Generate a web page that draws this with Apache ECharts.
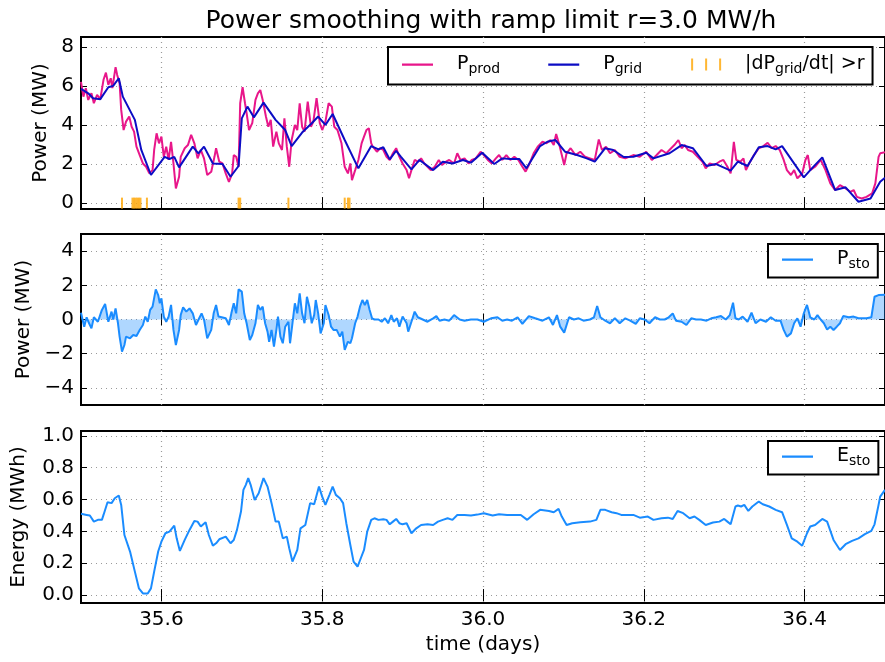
<!DOCTYPE html>
<html><head><meta charset="utf-8">
<script src="https://cdn.jsdelivr.net/npm/echarts@6/dist/echarts.min.js"></script>
<style>html,body{margin:0;padding:0;background:#fff}#c{width:885px;height:662px}</style>
</head><body><div id="c"></div>
<script>
// ---------- data ----------
const xTicks = [35.6, 35.8, 36.0, 36.2, 36.4];
const yTicksTop = [0, 2, 4, 6, 8];
const yTicksMid = [-4, -2, 0, 2, 4];
const yTicksBot = [0, 0.2, 0.4, 0.6, 0.8, 1.0];

const pProd = [[35.500,6.2],[35.503,5.45],[35.506,5.88],[35.509,5.28],[35.513,5.62],[35.516,5.11],[35.520,5.54],[35.524,5.32],[35.528,6.31],[35.531,6.68],[35.534,6.05],[35.537,6.39],[35.539,5.88],[35.543,6.96],[35.545,6.56],[35.548,6.14],[35.550,4.77],[35.553,3.74],[35.556,4.17],[35.560,4.43],[35.563,3.91],[35.566,3.66],[35.569,2.89],[35.573,2.46],[35.577,2.03],[35.581,1.86],[35.585,1.52],[35.589,1.69],[35.591,2.72],[35.594,3.57],[35.597,3.06],[35.600,3.40],[35.603,2.37],[35.606,2.89],[35.609,2.21],[35.612,3.14],[35.615,2.03],[35.618,0.75],[35.622,1.35],[35.624,2.37],[35.629,2.81],[35.633,2.97],[35.637,3.49],[35.641,3.06],[35.645,2.29],[35.649,2.72],[35.653,2.29],[35.657,1.44],[35.662,1.61],[35.666,2.37],[35.668,2.81],[35.672,2.12],[35.676,2.03],[35.680,1.52],[35.684,1.09],[35.688,1.52],[35.690,2.46],[35.693,2.37],[35.696,1.86],[35.698,5.11],[35.701,5.93],[35.704,5.11],[35.706,4.6],[35.709,3.74],[35.713,4.09],[35.717,5.28],[35.720,5.62],[35.723,5.79],[35.726,5.28],[35.730,4.43],[35.733,3.91],[35.736,4.26],[35.739,2.89],[35.743,3.66],[35.746,3.06],[35.750,2.72],[35.753,4.34],[35.756,2.89],[35.759,1.86],[35.762,3.23],[35.766,4.0],[35.769,3.74],[35.772,5.11],[35.775,3.91],[35.778,3.66],[35.782,5.19],[35.786,3.91],[35.789,4.17],[35.793,5.37],[35.797,4.09],[35.800,3.74],[35.804,4.17],[35.808,5.11],[35.812,4.94],[35.815,3.91],[35.819,3.74],[35.824,3.06],[35.828,1.86],[35.832,1.52],[35.835,2.03],[35.837,1.18],[35.841,1.69],[35.845,2.21],[35.849,3.06],[35.852,3.40],[35.855,3.74],[35.858,3.83],[35.861,3.06],[35.863,2.89],[35.868,2.63],[35.872,2.81],[35.876,2.72],[35.880,2.37],[35.884,2.21],[35.888,2.55],[35.892,2.81],[35.896,2.37],[35.900,2.03],[35.905,1.69],[35.908,1.27],[35.911,1.69],[35.915,2.21],[35.919,2.12],[35.923,2.29],[35.927,2.03],[35.931,1.86],[35.935,1.69],[35.940,1.86],[35.945,2.21],[35.949,1.95],[35.954,2.12],[35.958,2.21],[35.964,2.03],[35.968,2.55],[35.972,2.21],[35.977,2.29],[35.982,2.03],[35.986,2.21],[35.991,2.29],[35.997,2.63],[36.001,2.46],[36.006,2.21],[36.011,2.03],[36.016,2.29],[36.020,2.46],[36.024,2.21],[36.029,2.46],[36.034,2.21],[36.039,2.37],[36.044,2.21],[36.049,1.86],[36.053,1.61],[36.058,2.03],[36.063,2.55],[36.068,2.89],[36.074,3.14],[36.079,3.06],[36.084,3.23],[36.088,2.97],[36.091,3.54],[36.095,2.97],[36.098,2.46],[36.101,1.95],[36.104,2.55],[36.109,2.81],[36.115,2.46],[36.121,2.63],[36.127,2.37],[36.133,2.29],[36.139,2.21],[36.144,3.26],[36.148,2.72],[36.153,2.89],[36.158,2.55],[36.164,2.72],[36.170,2.37],[36.177,2.29],[36.179,2.37],[36.187,2.46],[36.195,2.37],[36.203,2.63],[36.210,2.21],[36.216,2.46],[36.222,2.72],[36.228,2.55],[36.234,2.81],[36.238,2.97],[36.243,3.23],[36.247,2.81],[36.251,2.97],[36.255,2.72],[36.261,2.63],[36.267,2.37],[36.273,2.12],[36.277,1.78],[36.282,2.03],[36.288,1.95],[36.294,2.12],[36.299,2.21],[36.304,1.86],[36.308,1.52],[36.312,3.14],[36.315,2.21],[36.320,2.12],[36.324,2.29],[36.327,1.69],[36.331,2.03],[36.337,2.46],[36.343,2.81],[36.348,2.89],[36.354,3.09],[36.359,2.81],[36.364,2.92],[36.369,2.72],[36.374,2.21],[36.378,1.69],[36.383,1.44],[36.387,1.69],[36.391,1.27],[36.397,1.52],[36.401,2.21],[36.404,2.46],[36.407,1.69],[36.413,1.86],[36.420,2.21],[36.426,1.69],[36.432,1.01],[36.438,0.67],[36.444,0.92],[36.451,0.75],[36.457,0.58],[36.461,0.67],[36.465,0.32],[36.471,0.24],[36.477,0.32],[36.484,0.5],[36.488,1.01],[36.492,2.37],[36.494,2.55],[36.500,2.6]];

const pGrid = [[35.500,5.85],[35.509,5.62],[35.515,5.37],[35.524,5.32],[35.534,5.93],[35.540,6.0],[35.547,6.39],[35.552,5.45],[35.567,4.26],[35.575,2.72],[35.587,1.44],[35.604,2.37],[35.610,2.26],[35.616,2.37],[35.622,1.83],[35.639,2.89],[35.646,2.55],[35.653,2.89],[35.664,2.03],[35.676,2.0],[35.686,1.35],[35.696,1.9],[35.700,4.34],[35.707,4.94],[35.715,4.39],[35.727,5.14],[35.742,4.26],[35.754,3.74],[35.762,2.92],[35.775,3.61],[35.787,4.09],[35.795,4.43],[35.804,4.0],[35.813,4.56],[35.828,3.23],[35.845,1.78],[35.861,2.92],[35.870,2.75],[35.876,2.86],[35.884,2.24],[35.892,2.68],[35.898,2.37],[35.911,1.73],[35.921,2.21],[35.938,1.69],[35.950,2.12],[35.962,2.03],[35.975,2.21],[35.985,2.07],[35.999,2.58],[36.014,2.0],[36.024,2.29],[36.034,2.26],[36.045,2.26],[36.054,1.78],[36.071,2.92],[36.080,3.14],[36.090,3.23],[36.102,2.63],[36.117,2.46],[36.129,2.29],[36.139,2.12],[36.152,2.81],[36.162,2.72],[36.175,2.36],[36.187,2.37],[36.203,2.58],[36.212,2.29],[36.232,2.55],[36.247,2.97],[36.261,2.81],[36.278,1.9],[36.290,2.0],[36.308,1.66],[36.317,2.12],[36.329,1.9],[36.343,2.86],[36.354,2.92],[36.364,2.75],[36.372,2.92],[36.399,1.32],[36.409,1.78],[36.422,2.34],[36.438,0.67],[36.451,0.81],[36.467,0.07],[36.482,0.24],[36.494,1.09],[36.500,1.3]];

const rampExceedTimes = [35.551, 35.564, 35.566, 35.568, 35.570, 35.572, 35.574, 35.582, 35.696, 35.698, 35.758, 35.828, 35.832, 35.834];

const pSto = [[35.500,0.4],[35.501,0.46],[35.504,-0.42],[35.507,0.13],[35.510,-0.22],[35.513,-0.52],[35.516,0.13],[35.521,-0.13],[35.526,0.56],[35.530,0.91],[35.534,-0.13],[35.538,0.46],[35.540,0],[35.543,0.65],[35.546,-0.22],[35.548,-1.0],[35.551,-1.88],[35.554,-1.49],[35.556,-1.0],[35.561,-1.1],[35.565,-0.91],[35.569,-0.96],[35.573,-0.61],[35.577,-0.32],[35.580,0.17],[35.583,-0.13],[35.586,0.56],[35.589,0.75],[35.593,1.76],[35.596,1.43],[35.598,0.95],[35.600,1.24],[35.603,0.17],[35.606,-0.13],[35.609,0.17],[35.612,0.85],[35.615,-0.61],[35.618,-1.49],[35.622,-0.61],[35.624,0.26],[35.627,0.71],[35.631,0.46],[35.635,0.65],[35.639,0.36],[35.643,-0.32],[35.647,0.07],[35.650,0.36],[35.653,0],[35.657,-1.1],[35.662,-0.61],[35.665,0.36],[35.668,0.85],[35.671,0.17],[35.675,0.13],[35.680,0.07],[35.684,-0.32],[35.687,0.36],[35.690,0.95],[35.693,0.36],[35.696,1.76],[35.700,1.63],[35.703,0.36],[35.706,-0.22],[35.710,-1.2],[35.713,-0.91],[35.717,-0.22],[35.720,0.85],[35.723,0.56],[35.726,0.75],[35.729,-0.22],[35.732,-0.71],[35.734,-1.3],[35.737,-0.61],[35.740,-1.59],[35.743,-0.61],[35.745,0.17],[35.748,-1.0],[35.751,-1.39],[35.754,-0.42],[35.758,-0.13],[35.760,-1.39],[35.763,-0.22],[35.766,0.95],[35.769,0.36],[35.772,1.53],[35.775,0.36],[35.778,-0.22],[35.781,1.33],[35.784,0.75],[35.787,-0.22],[35.790,0.26],[35.792,1.14],[35.795,0.36],[35.798,-0.81],[35.802,-0.22],[35.804,0.85],[35.808,0.26],[35.811,-0.42],[35.814,-0.61],[35.818,-0.61],[35.822,-1.0],[35.825,-0.71],[35.828,-1.78],[35.832,-1.3],[35.835,-1.39],[35.837,-1.1],[35.841,-0.22],[35.844,0.17],[35.847,0.75],[35.850,1.14],[35.853,0.85],[35.856,1.14],[35.859,0.56],[35.862,0.07],[35.865,0],[35.870,0],[35.874,-0.13],[35.878,0.07],[35.882,-0.22],[35.886,0.26],[35.889,-0.13],[35.893,0.07],[35.896,-0.42],[35.900,0.17],[35.905,-0.22],[35.907,-0.71],[35.911,-0.13],[35.915,0.46],[35.919,0.13],[35.925,0],[35.931,-0.13],[35.938,0.07],[35.942,0.2],[35.946,-0.07],[35.952,0],[35.958,-0.07],[35.964,0.26],[35.971,0],[35.977,-0.07],[35.985,0],[35.993,0],[36.001,-0.13],[36.010,0.07],[36.018,0.13],[36.024,-0.07],[36.030,0],[36.036,-0.07],[36.043,0.13],[36.049,-0.26],[36.057,0.2],[36.065,0.07],[36.074,-0.07],[36.082,0.13],[36.087,-0.32],[36.092,0.26],[36.096,-0.42],[36.101,-0.77],[36.107,0.13],[36.113,0],[36.119,0.07],[36.125,-0.07],[36.133,0],[36.138,0.13],[36.142,0.79],[36.146,0.13],[36.152,-0.07],[36.158,-0.22],[36.164,0.07],[36.170,-0.22],[36.177,0.07],[36.183,-0.07],[36.190,-0.26],[36.195,0.07],[36.201,0],[36.207,-0.22],[36.214,0.13],[36.220,0],[36.226,0],[36.231,0.13],[36.236,0.36],[36.240,-0.07],[36.247,-0.13],[36.253,-0.32],[36.259,0.07],[36.265,0],[36.271,0],[36.278,-0.07],[36.284,0.07],[36.290,0.13],[36.296,0.2],[36.302,0],[36.307,0.26],[36.311,0.98],[36.314,0.07],[36.318,0],[36.323,0.17],[36.329,-0.13],[36.334,0.4],[36.339,-0.22],[36.345,0],[36.352,-0.13],[36.358,0.13],[36.364,-0.07],[36.370,-0.07],[36.374,-0.61],[36.378,-1.0],[36.383,-0.81],[36.387,-0.22],[36.391,0.07],[36.395,-0.42],[36.399,0.36],[36.403,0.85],[36.407,0.13],[36.412,0],[36.416,0.26],[36.420,0],[36.424,-0.22],[36.428,-0.58],[36.432,-0.42],[36.436,-0.61],[36.440,-0.42],[36.444,-0.22],[36.448,0.2],[36.455,0.13],[36.461,0.17],[36.467,0.07],[36.477,0.07],[36.483,0.13],[36.487,1.33],[36.492,1.43],[36.500,1.45]];

const eSto = [[35.500,0.51],[35.501,0.507],[35.507,0.503],[35.511,0.499],[35.516,0.461],[35.521,0.472],[35.526,0.472],[35.528,0.503],[35.533,0.583],[35.538,0.577],[35.542,0.608],[35.547,0.625],[35.550,0.566],[35.554,0.377],[35.561,0.273],[35.567,0.147],[35.572,0.042],[35.577,0.010],[35.583,0.010],[35.587,0.042],[35.591,0.147],[35.596,0.273],[35.600,0.335],[35.605,0.388],[35.610,0.398],[35.616,0.436],[35.619,0.356],[35.623,0.277],[35.629,0.346],[35.635,0.409],[35.641,0.465],[35.645,0.461],[35.649,0.430],[35.655,0.457],[35.659,0.377],[35.664,0.310],[35.668,0.325],[35.672,0.350],[35.680,0.367],[35.686,0.325],[35.690,0.346],[35.694,0.409],[35.699,0.524],[35.702,0.660],[35.705,0.692],[35.708,0.734],[35.711,0.692],[35.716,0.597],[35.721,0.639],[35.727,0.734],[35.732,0.681],[35.737,0.577],[35.742,0.461],[35.746,0.461],[35.751,0.356],[35.756,0.367],[35.759,0.294],[35.763,0.210],[35.769,0.283],[35.773,0.419],[35.779,0.440],[35.785,0.577],[35.790,0.570],[35.796,0.681],[35.800,0.618],[35.804,0.566],[35.809,0.629],[35.813,0.681],[35.817,0.629],[35.822,0.608],[35.826,0.577],[35.830,0.451],[35.835,0.314],[35.839,0.210],[35.844,0.178],[35.848,0.231],[35.852,0.283],[35.856,0.398],[35.861,0.472],[35.865,0.482],[35.870,0.472],[35.876,0.476],[35.880,0.472],[35.884,0.444],[35.888,0.461],[35.892,0.478],[35.896,0.451],[35.900,0.444],[35.905,0.451],[35.911,0.388],[35.917,0.419],[35.923,0.440],[35.931,0.444],[35.938,0.440],[35.944,0.461],[35.950,0.472],[35.956,0.482],[35.962,0.472],[35.968,0.503],[35.977,0.503],[35.985,0.499],[35.993,0.505],[36.001,0.514],[36.012,0.499],[36.020,0.507],[36.030,0.503],[36.047,0.503],[36.055,0.472],[36.063,0.507],[36.071,0.535],[36.082,0.528],[36.088,0.520],[36.094,0.541],[36.098,0.493],[36.104,0.440],[36.111,0.451],[36.121,0.457],[36.133,0.461],[36.141,0.472],[36.146,0.535],[36.152,0.535],[36.160,0.520],[36.166,0.514],[36.172,0.503],[36.187,0.503],[36.195,0.486],[36.205,0.493],[36.212,0.472],[36.222,0.482],[36.230,0.486],[36.236,0.478],[36.242,0.528],[36.249,0.514],[36.257,0.482],[36.263,0.493],[36.269,0.472],[36.277,0.440],[36.286,0.455],[36.294,0.461],[36.300,0.478],[36.304,0.461],[36.308,0.444],[36.314,0.556],[36.317,0.562],[36.321,0.556],[36.325,0.566],[36.330,0.528],[36.335,0.556],[36.343,0.587],[36.348,0.570],[36.356,0.556],[36.364,0.535],[36.372,0.520],[36.378,0.440],[36.384,0.356],[36.391,0.335],[36.397,0.310],[36.403,0.388],[36.407,0.430],[36.413,0.440],[36.422,0.478],[36.428,0.461],[36.436,0.346],[36.444,0.283],[36.451,0.319],[36.459,0.340],[36.467,0.356],[36.475,0.382],[36.483,0.403],[36.487,0.444],[36.492,0.566],[36.494,0.618],[36.500,0.66]];

// ---------- styling ----------
const FONT = 'DejaVu Sans';
const PINK = '#e8168a', NAVY = '#0c0cc4', SKY = '#1a8cff', ORANGE = '#ffa500';
const minus = v => (v < 0 ? '\u2212' + Math.abs(v) : String(v));

const gridsPos = [
  { top: 37, height: 172 },
  { top: 234, height: 171 },
  { top: 431, height: 172 }
];
const yCfg = [
  { min: -0.3, max: 8.5, ticks: yTicksTop, fmt: v => String(v), name: 'Power (MW)', gap: 29 },
  { min: -5, max: 5, ticks: yTicksMid, fmt: minus, name: 'Power (MW)', gap: 46 },
  { min: -0.05, max: 1.03, ticks: yTicksBot, fmt: v => v.toFixed(1), name: 'Energy (MWh)', gap: 52 }
];

const splitLine = { show: true, lineStyle: { color: '#9a9a9a', type: [1, 4], width: 1.2 } };
const tick = vals => ({ show: true, inside: true, length: 6, customValues: vals, lineStyle: { color: '#000', width: 1 } });

const grid = [], xAxis = [], yAxis = [];
gridsPos.forEach((g, i) => {
  grid.push({ left: 81, right: -5, top: g.top, height: g.height, show: true,
    borderColor: '#000', borderWidth: 2, backgroundColor: '#fff', containLabel: false });
  xAxis.push({ type: 'value', gridIndex: i, min: 35.5, max: 36.5, position: 'bottom',
    axisLine: { show: false }, axisTick: tick(xTicks), splitLine,
    axisLabel: { show: i === 2, customValues: xTicks, formatter: v => v.toFixed(1), fontFamily: FONT, fontSize: 20, color: '#000', margin: 7 },
    name: i === 2 ? 'time (days)' : '', nameLocation: 'middle', nameGap: 32,
    nameTextStyle: { fontFamily: FONT, fontSize: 20, color: '#000' } });
  xAxis.push({ type: 'value', gridIndex: i, min: 35.5, max: 36.5, position: 'top',
    axisLine: { show: false }, axisTick: tick(xTicks), splitLine: { show: false }, axisLabel: { show: false } });
  const c = yCfg[i];
  yAxis.push({ type: 'value', gridIndex: i, min: c.min, max: c.max, position: 'left',
    axisLine: { show: false }, axisTick: tick(c.ticks), splitLine,
    axisLabel: { customValues: c.ticks, formatter: c.fmt, fontFamily: FONT, fontSize: 20, color: '#000', margin: 7 },
    name: c.name, nameLocation: 'middle', nameGap: c.gap,
    nameTextStyle: { fontFamily: FONT, fontSize: 20, color: '#000' } });
  yAxis.push({ type: 'value', gridIndex: i, min: c.min, max: c.max, position: 'right',
    axisLine: { show: false }, axisTick: tick(c.ticks), splitLine: { show: false }, axisLabel: { show: false } });
});

const richText = {
  m: { fontFamily: FONT, fontSize: 19, color: '#000', lineHeight: 24 },
  s: { fontFamily: FONT, fontSize: 14, color: '#000', lineHeight: 10, verticalAlign: 'bottom' }
};
const legendLabels = {
  Pprod: '{m|P}{s|prod}',
  Pgrid: '{m|P}{s|grid}',
  ramp: '{m||dP}{s|grid}{m|/dt| >r}',
  Psto: '{m|P}{s|sto}',
  Esto: '{m|E}{s|sto}'
};
// line-sample icon: a 2px bar in a 31x14 box (tiny corner dots keep the box size)
const LINE_ICON = 'path://M0 0h0.05v0.05H0z M0 6h31v2.2H0z M30.95 13.95h0.05v0.05h-0.05z';
const TICKS_ICON = 'path://M0 0h0.05v0.05H0z M1 1h2v12H1z M15 1h2v12h-2z M29 1h2v12h-2z M30.95 13.95h0.05v0.05h-0.05z';
const legendBase = {
  orient: 'horizontal', itemWidth: 31, itemHeight: 14,
  borderColor: '#000', borderWidth: 2, borderRadius: 0, backgroundColor: '#fff',
  formatter: n => legendLabels[n],
  textStyle: { fontFamily: FONT, fontSize: 19, color: '#000', padding: [0, 0, 0, 19], rich: richText },
  selectedMode: false
};

const line = (name, data, color, xi, yi, extra) => Object.assign({
  name, type: 'line', data, xAxisIndex: xi, yAxisIndex: yi, showSymbol: false, symbol: 'none',
  lineStyle: { color, width: 2 }, itemStyle: { color }, animation: false, clip: true
}, extra || {});

const option = {
  animation: false,
  backgroundColor: '#fff',
  textStyle: { fontFamily: FONT },
  title: { text: 'Power smoothing with ramp limit r=3.0 MW/h', left: 486, top: 4, textAlign: 'center',
    textStyle: { fontFamily: FONT, fontSize: 25, fontWeight: 'normal', color: '#000' } },
  grid, xAxis, yAxis,
  legend: [
    Object.assign({}, legendBase, { left: 388, top: 47, itemGap: 48, padding: [8, 8, 8, 14],
      data: [{ name: 'Pprod', icon: LINE_ICON, itemStyle: { color: PINK } },
             { name: 'Pgrid', icon: LINE_ICON, itemStyle: { color: NAVY } },
             { name: 'ramp', icon: TICKS_ICON, itemStyle: { color: ORANGE } }] }),
    Object.assign({}, legendBase, { left: 768, top: 244, padding: [6, 8, 6, 14],
      data: [{ name: 'Psto', icon: LINE_ICON, itemStyle: { color: SKY } }] }),
    Object.assign({}, legendBase, { left: 768, top: 441, padding: [6, 8, 6, 14],
      data: [{ name: 'Esto', icon: LINE_ICON, itemStyle: { color: SKY } }] })
  ],
  series: [
    line('Pprod', pProd, PINK, 0, 0),
    line('Pgrid', pGrid, NAVY, 0, 0),
    { name: 'ramp', type: 'scatter', xAxisIndex: 0, yAxisIndex: 0, symbol: 'rect', symbolSize: [2, 11],
      data: rampExceedTimes.map(t => [t, 0]), itemStyle: { color: ORANGE }, animation: false, z: 5 },
    line('Psto', pSto, SKY, 2, 2, { areaStyle: { color: SKY, opacity: 0.35, origin: 0 } }),
    line('Esto', eSto, SKY, 4, 4)
  ]
};

const chart = echarts.init(document.getElementById('c'), null, { renderer: 'canvas' });
chart.setOption(option);
</script>
</body></html>
